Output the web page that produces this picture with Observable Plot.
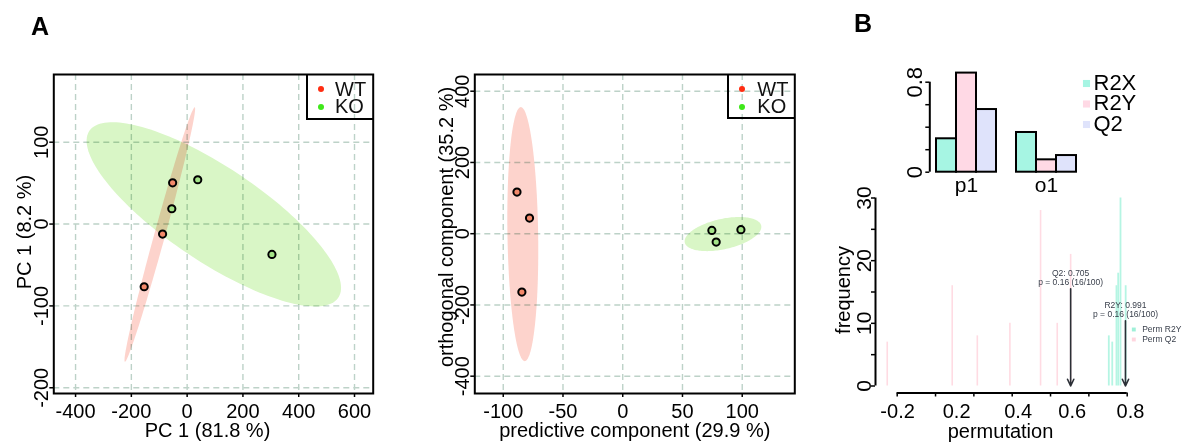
<!DOCTYPE html>
<html><head><meta charset="utf-8">
<script src="https://cdn.jsdelivr.net/npm/d3@7"></script>
<script src="https://cdn.jsdelivr.net/npm/@observablehq/plot@0.6"></script>
<style>
body{margin:0;background:#fff;font-family:"Liberation Sans",Arial,sans-serif;}
#root{position:relative;width:1184px;height:442px;overflow:hidden;background:#fff;}
.plab{position:absolute;font-weight:bold;font-size:25px;line-height:25px;color:#000;}
.lgbox{position:absolute;border-left:2px solid #000;border-bottom:2px solid #000;box-sizing:border-box;}
.lgdot{position:absolute;width:6px;height:6px;border-radius:50%;}
.lgtxt{position:absolute;font-size:20px;line-height:17px;color:#111;}
</style></head><body><div id="root"></div>
<script>
// ---------------- DATA ----------------
const groupNames = ["WT", "KO"];
const legendColors = ["#ff2d12", "#3fe81a"];
const ellipseFill = ["#fdd3cc", "#d9f6c6"];
const pointFill = ["#f3886a", "#a4e488"];

// PCA scores (panel A, left)
const pcaX_WT = [-52, -88, -154];
const pcaY_WT = [50.4, -12.2, -76.6];
const pcaX_KO = [38, -55, 304];
const pcaY_KO = [54.1, 18.7, -37.1];
const pcaXTicks = [-400, -200, 0, 200, 400, 600];
const pcaYTicks = [-200, -100, 0, 100];
const pcaXDomain = [-478, 667];
const pcaYDomain = [-207, 182.7];
const pcaXLabel = "PC 1 (81.8 %)";
const pcaYLabel = "PC 1 (8.2 %)";

// OPLS-DA scores (panel A, right)
const oplsX_WT = [-88.5, -78, -84.4];
const oplsY_WT = [116.8, 43.8, -164];
const oplsX_KO = [74.6, 78.2, 98.9];
const oplsY_KO = [9.3, -23.6, 11.2];
const oplsXTicks = [-100, -50, 0, 50, 100];
const oplsYTicks = [-400, -200, 0, 200, 400];
const oplsXDomain = [-123.8, 144];
const oplsYDomain = [-448.6, 446.9];
const oplsXLabel = "predictive component (29.9 %)";
const oplsYLabel = "orthogonal component (35.2 %)";

// Model summary bars (panel B, top)
const components = ["p1", "o1"];
const metrics = ["R2X", "R2Y", "Q2"];
const metricColors = ["#a6f5e3", "#ffd9e5", "#dfe3fb"];
const valR2X = [0.297, 0.353];
const valR2Y = [0.881, 0.110];
const valQ2 = [0.557, 0.148];
const barYTicks = [0, 0.2, 0.4, 0.6, 0.8];
const barYLabelled = [0, 0.8];

// Permutation histogram (panel B, bottom)
const permQ2Value = [-0.252, 0.087, 0.218, 0.388, 0.548, 0.635, 0.705];
const permQ2Count = [7, 16, 8, 10, 28, 10, 21];
const permR2YValue = [0.904, 0.922, 0.944, 0.953, 0.965, 0.992];
const permR2YCount = [8, 7, 16, 18, 30, 16];
const obsNames = ["Q2", "R2Y"];
const obsValues = [0.705, 0.991];
const obsPValues = [0.16, 0.16];
const obsExceed = [16, 16];
const nPerm = 100;
const obsArrowTop = [15.5, 10.4];
const permXTicks = [-0.2, 0, 0.2, 0.4, 0.6, 0.8, 1.0];
const permXLabels = ["-0.2", "0.2", "0.4", "0.6", "0.8"];
const permXLabelAt = [-0.198, 0.110, 0.431, 0.713, 1.017];
const permYTicks = [0, 5, 10, 15, 20, 25, 30];
const permYLabelled = [0, 10, 20, 30];
const permColors = ["#b5f5e3", "#ffdbe3"];
const permLegend = ["Perm R2Y", "Perm Q2"];

// ---------------- HELPERS ----------------
const FONT = "'Liberation Sans', Arial, sans-serif";
const GRID = "#bdd2c8";
const root = document.getElementById("root");
function place(el, left, top) {
  el.style.position = "absolute";
  el.style.left = left + "px";
  el.style.top = top + "px";
  root.appendChild(el);
}
// 95% normal confidence ellipse (chi-square, 2 df) from the group's scores
function ellipsePoints(xs, ys, n = 160) {
  const k = Math.sqrt(5.991);
  const mx = d3.mean(xs), my = d3.mean(ys);
  const sxx = d3.variance(xs), syy = d3.variance(ys);
  const sxy = d3.sum(xs, (x, i) => (x - mx) * (ys[i] - my)) / (xs.length - 1);
  const tr = sxx + syy, det = sxx * syy - sxy * sxy;
  const disc = Math.sqrt(Math.max(0, tr * tr / 4 - det));
  const l1 = tr / 2 + disc, l2 = Math.max(0, tr / 2 - disc);
  const th = Math.atan2(l1 - sxx, sxy);
  const a = k * Math.sqrt(l1), b = k * Math.sqrt(l2);
  return d3.range(n).map(i => {
    const t = 2 * Math.PI * i / n;
    const u = a * Math.cos(t), v = b * Math.sin(t);
    return {x: mx + u * Math.cos(th) - v * Math.sin(th), y: my + u * Math.sin(th) + v * Math.cos(th)};
  });
}

function scatterPlot(cfg) {
  const marks = [
    Plot.gridX(cfg.xTicks, {stroke: GRID, strokeOpacity: 1, strokeWidth: 1.4, strokeDasharray: "6,4"}),
    Plot.gridY(cfg.yTicks, {stroke: GRID, strokeOpacity: 1, strokeWidth: 1.4, strokeDasharray: "6,4"})
  ];
  cfg.xs.forEach((xarr, g) => {
    marks.push(Plot.line(ellipsePoints(xarr, cfg.ys[g]), {x: "x", y: "y", curve: "linear-closed",
      fill: ellipseFill[g], stroke: "none", mixBlendMode: "multiply"}));
  });
  cfg.xs.forEach((xarr, g) => {
    const pts = xarr.map((x, i) => ({x, y: cfg.ys[g][i]}));
    marks.push(Plot.dot(pts, {x: "x", y: "y", r: 3.6, fill: pointFill[g], stroke: "black", strokeWidth: 2}));
  });
  marks.push(
    Plot.frame({stroke: "black", strokeWidth: 2}),
    Plot.axisX(cfg.xTicks, {tickSize: 4, tickPadding: 5.8, fontSize: 20, label: null, strokeWidth: 1.5, tickFormat: d => String(d)}),
    Plot.axisY(cfg.yTicks, {tickSize: 4, tickPadding: cfg.yPad, tickRotate: -90, fontSize: 20, label: null, strokeWidth: 1.5, tickFormat: d => String(d)}),
    Plot.text([cfg.xLabel], {text: d => d, frameAnchor: "bottom", dy: 37, dx: cfg.xLabelDx, fontSize: 20, lineAnchor: "middle"}),
    Plot.text([cfg.yLabel], {text: d => d, frameAnchor: "left", rotate: -90, dx: cfg.yLabelDx, dy: cfg.yLabelDy, fontSize: 20, textAnchor: "middle", lineAnchor: "middle"})
  );
  return Plot.plot({
    width: cfg.width, height: 442,
    marginLeft: cfg.mL, marginRight: cfg.mR, marginTop: 74, marginBottom: 49,
    style: {background: "transparent", overflow: "visible", fontFamily: FONT, color: "#000"},
    x: {domain: cfg.xDomain}, y: {domain: cfg.yDomain},
    marks
  });
}

function htmlLegend(boxLeft, boxTop, boxW, boxH, dotX, textX) {
  const box = document.createElement("div");
  box.className = "lgbox";
  box.style.width = boxW + "px"; box.style.height = boxH + "px";
  place(box, boxLeft, boxTop);
  const dotYs = [89.3, 106.7];
  groupNames.forEach((name, i) => {
    const d = document.createElement("div");
    d.className = "lgdot"; d.style.background = legendColors[i];
    place(d, dotX - 3, dotYs[i] - 3);
    const t = document.createElement("div");
    t.className = "lgtxt"; t.textContent = name;
    place(t, textX, dotYs[i] - 8.5);
  });
}

// ---------------- PANEL A ----------------
const labA = document.createElement("div"); labA.className = "plab"; labA.textContent = "A"; place(labA, 31, 14);
const labB = document.createElement("div"); labB.className = "plab"; labB.textContent = "B"; place(labB, 854, 11);

place(scatterPlot({
  width: 390, mL: 53.3, mR: 17.3,
  xs: [pcaX_WT, pcaX_KO], ys: [pcaY_WT, pcaY_KO],
  xDomain: pcaXDomain, yDomain: pcaYDomain, xTicks: pcaXTicks, yTicks: pcaYTicks,
  xLabel: pcaXLabel, yLabel: pcaYLabel, xLabelDx: -6, yLabelDx: -29.3, yLabelDy: -2, yPad: 2.1
}), 0, 0);
htmlLegend(306, 74, 67, 46, 321, 335);

place(scatterPlot({
  width: 410, mL: 84.3, mR: 5.7,
  xs: [oplsX_WT, oplsX_KO], ys: [oplsY_WT, oplsY_KO],
  xDomain: oplsXDomain, yDomain: oplsYDomain, xTicks: oplsXTicks, yTicks: oplsYTicks,
  xLabel: oplsXLabel, yLabel: oplsYLabel, xLabelDx: 0, yLabelDx: -28.3, yLabelDy: -7, yPad: 2
}), 390, 0);
htmlLegend(726.7, 74, 67.6, 45.3, 741.7, 757.3);

// ---------------- PANEL B: bars ----------------
const barData = components.flatMap((c, i) => [
  {comp: c, metric: "R2X", value: valR2X[i]},
  {comp: c, metric: "R2Y", value: valR2Y[i]},
  {comp: c, metric: "Q2", value: valQ2[i]}
]);
place(Plot.plot({
  width: 344, height: 200, marginLeft: 95, marginRight: 107.3, marginTop: 50, marginBottom: 28.3,
  style: {background: "transparent", overflow: "visible", fontFamily: FONT, color: "#000"},
  fx: {domain: components, paddingInner: 0.229, paddingOuter: 0},
  x: {domain: metrics, padding: 0, axis: null},
  y: {domain: [0, 0.8], range: [171.7, 81.7], axis: null},
  color: {domain: metrics, range: metricColors},
  marks: [
    Plot.barY(barData, {fx: "comp", x: "metric", y: "value", fill: "metric", stroke: "black", strokeWidth: 2}),
    Plot.axisFx({anchor: "bottom", tickSize: 0, tickPadding: 5, fontSize: 21, label: null})
  ]
}), 840, 0);

// bar y axis + legend
place(Plot.plot({
  width: 344, height: 200, marginLeft: 89.3, marginRight: 10, marginTop: 81.7, marginBottom: 28.3,
  style: {background: "transparent", overflow: "visible", fontFamily: FONT, color: "#000"},
  x: {domain: [0, 1], axis: null},
  y: {domain: [0, 0.8]},
  marks: [
    Plot.ruleX([0], {y1: barYTicks[0], y2: barYTicks[barYTicks.length - 1], strokeWidth: 2}),
    Plot.axisY(barYTicks, {tickSize: 4, tickPadding: 3.4, tickRotate: -90, fontSize: 22, label: null, strokeWidth: 1.5,
      tickFormat: d => barYLabelled.includes(d) ? String(d) : ""}),
    ...metrics.map((m, i) => Plot.dot([m], {frameAnchor: "top-left", dx: 156.7, dy: 1.3 + i * 20.5, symbol: "square", r: 4, fill: metricColors[i], stroke: "none"})),
    ...metrics.map((m, i) => Plot.text([m], {text: d => d, frameAnchor: "top-left", dx: 163.7, dy: 1.3 + i * 20.5, textAnchor: "start", lineAnchor: "middle", fontSize: 22, lineHeight: 0.9}))
  ]
}), 840, 0);

// ---------------- PANEL B: permutation histogram ----------------
const q2Lines = permQ2Value.map((v, i) => ({v, n: permQ2Count[i]}));
const r2yLines = permR2YValue.map((v, i) => ({v, n: permR2YCount[i]}));
const obs = obsNames.map((name, i) => ({name, x: obsValues[i], top: obsArrowTop[i],
  label: `${name}: ${obsValues[i]}\np = ${obsPValues[i]} (${obsExceed[i]}/${nPerm})`}));
const tickLab = permXLabels.map((t, i) => ({t, x: permXLabelAt[i]}));
place(Plot.plot({
  width: 344, height: 262, marginLeft: 56.7, marginRight: 57.3, marginTop: 17.5, marginBottom: 56.5,
  style: {background: "transparent", overflow: "visible", fontFamily: FONT, color: "#000"},
  x: {domain: [permXTicks[0], permXTicks[permXTicks.length - 1]], axis: null},
  y: {domain: [permYTicks[0], permYTicks[permYTicks.length - 1]], axis: null},
  marks: [
    Plot.ruleX(q2Lines, {x: "v", y1: () => 0, y2: "n", stroke: permColors[1], strokeWidth: 1.6}),
    Plot.ruleX(r2yLines, {x: "v", y1: () => 0, y2: "n", stroke: permColors[0], strokeWidth: 1.8}),
    Plot.arrow(obs, {x1: "x", x2: "x", y1: "top", y2: () => 0, stroke: "#2b2f36", strokeWidth: 1.6, headLength: 7, headAngle: 50}),
    Plot.text(obs, {x: "x", y: "top", text: "label", lineAnchor: "bottom", dy: -3.5, fontSize: 8.5, lineHeight: 1.12, fill: "#3a404c"}),
    Plot.ruleY([0], {x1: permXTicks[0], x2: permXTicks[permXTicks.length - 1], dy: 7, strokeWidth: 2}),
    Plot.axisX(permXTicks, {tickSize: 4, dy: 7, tickFormat: () => "", label: null, strokeWidth: 1.5}),
    Plot.text(tickLab, {x: "x", text: "t", frameAnchor: "bottom", dy: 25.2, lineAnchor: "middle", fontSize: 20}),
    Plot.ruleX([permXTicks[0]], {y1: permYTicks[0], y2: permYTicks[permYTicks.length - 1], dx: -21.7, strokeWidth: 2}),
    Plot.axisY(permYTicks, {tickSize: 4, dx: -21.7, tickPadding: 1, tickRotate: -90, fontSize: 21, label: null, strokeWidth: 1.5,
      tickFormat: d => permYLabelled.includes(d) ? String(d) : ""}),
    Plot.text(["permutation"], {text: d => d, frameAnchor: "bottom", dy: 46, dx: -11.7, fontSize: 20, lineAnchor: "middle"}),
    Plot.text(["frequency"], {text: d => d, frameAnchor: "left", rotate: -90, dx: -53.7, dy: -2, fontSize: 20, textAnchor: "middle", lineAnchor: "middle"}),
    ...permLegend.map((m, i) => Plot.dot([m], {frameAnchor: "top-right", dx: 6.6, dy: 131.5 + i * 10, symbol: "square", r: 2.2, fill: i === 0 ? "#9ff0d8" : "#ffd6df", stroke: "none"})),
    ...permLegend.map((m, i) => Plot.text([m], {text: d => d, frameAnchor: "top-right", dx: 15, dy: 131.5 + i * 10, textAnchor: "start", lineAnchor: "middle", fontSize: 8.5, fill: "#3a404c"}))
  ]
}), 840, 180);
</script></body></html>
